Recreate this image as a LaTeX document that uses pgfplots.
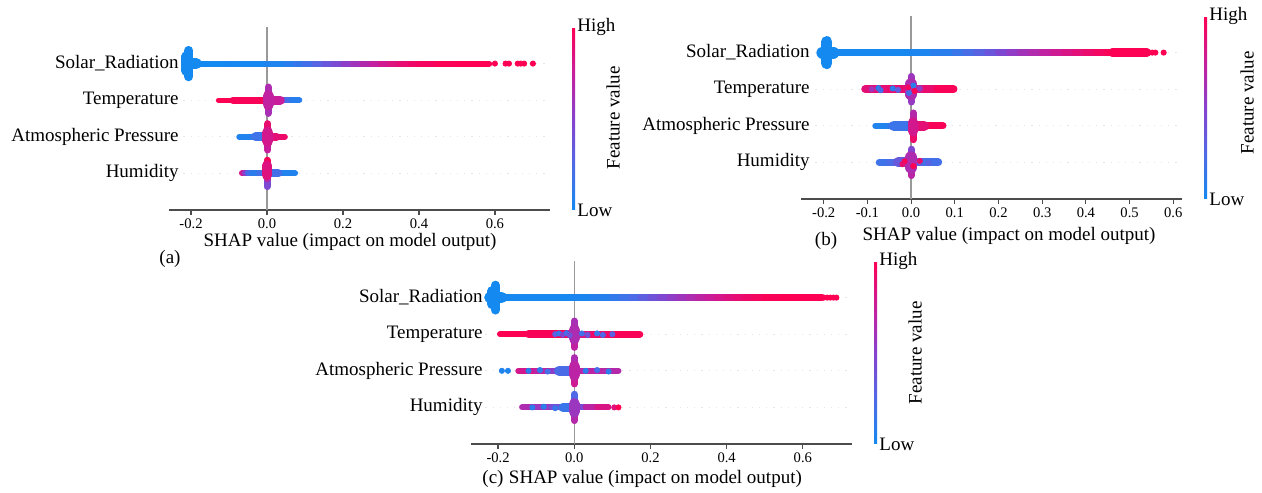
\documentclass[border=0pt]{standalone}
\usepackage{pgfplots}
\pgfplotsset{compat=1.18}
\usepackage{fontspec}
\setmainfont{Liberation Serif}
\pgfplotsset{
  colormap={shap}{rgb255(0cm)=(20,137,240); rgb255(1cm)=(80,105,230); rgb255(2cm)=(135,65,205); rgb255(3cm)=(200,30,155); rgb255(4cm)=(255,0,82)},
  shapax/.style={
    scale only axis, anchor=south west,
    width=190.5pt, height=91.5pt,
    ymin=-1, ymax=4,
    axis x line*=bottom, axis y line*=left,
    x axis line style={-, draw=black!70, line width=0.6pt},
    y axis line style={draw=none},
    ytick={0,1,2,3}, yticklabels={Humidity,Atmospheric Pressure,Temperature,Solar\_Radiation},
    ytick style={draw=none},
    xtick={-0.2,0,0.2,0.4,0.6}, xticklabels={-0.2,0.0,0.2,0.4,0.6},
    xtick style={draw=black!70, line width=0.6pt},
    tick align=outside, major tick length=2.5pt,
    yticklabel style={font=\fontsize{9.5}{11}\selectfont, anchor=east, inner sep=0pt},
    xticklabel style={font=\fontsize{7.3}{9}\selectfont, inner sep=0pt, anchor=north, yshift=-1.5pt},
    xlabel={SHAP value (impact on model output)},
    xlabel style={font=\fontsize{9.5}{11}\selectfont, anchor=center, inner sep=0pt},
    ymajorgrids, grid style={black!10, line width=0.4pt, dash pattern=on 0.6pt off 3pt},
    colormap name=shap, point meta min=0, point meta max=1,
    colorbar,
    colorbar style={
      at={(parent axis.north east)}, anchor=north west, xshift=2.5pt,
      scale only axis, width=1.5pt, height=91.5pt,
      ytick={0,1}, yticklabels={Low,High}, ytick style={draw=none},
      xtick=\empty, axis line style={draw=none},
      yticklabel style={font=\fontsize{9.5}{11}\selectfont, inner sep=1pt},
    },
  },
  band/.style={mesh, point meta=explicit, line cap=round},
  dots/.style={scatter, only marks, mark=*, mark size=1.3pt, point meta=explicit,
    scatter/use mapped color={draw=mapped color, fill=mapped color}},
  zeroline/.style={draw=black!40, line width=0.7pt},
}
\begin{document}
\begin{tikzpicture}
\useasboundingbox (0,0) rectangle (631pt,246pt);
% ---------------- (a)
\begin{axis}[shapax, at={(84.5pt,141pt)}, xmin=-0.258, xmax=0.745,
  yticklabel style={xshift=7.5pt},
  xlabel style={at={(axis description cs:0.475,0)}, yshift=-16pt}]
\addplot[zeroline] coordinates {(0,-1) (0,4)};
% Solar_Radiation
\addplot[band, line width=4.5pt] coordinates {(-0.206,2.64)[0] (-0.206,3.36)[0]};
\addplot[band, line width=5pt] coordinates {(-0.212,2.8)[0] (-0.212,3.2)[0]};
\addplot[band, line width=5.5pt] coordinates {(-0.205,3)[0] (-0.186,3)[0]};
\addplot[band, line width=3pt] coordinates {(-0.185,3)[0] (-0.1,3)[0] (0,3)[0.02] (0.05,3)[0.06] (0.075,3)[0.1] (0.1,3)[0.16] (0.125,3)[0.24] (0.15,3)[0.32] (0.175,3)[0.4] (0.2,3)[0.48] (0.225,3)[0.56] (0.25,3)[0.63] (0.275,3)[0.7] (0.3,3)[0.76] (0.325,3)[0.82] (0.35,3)[0.87] (0.375,3)[0.91] (0.4,3)[0.94] (0.45,3)[0.97] (0.5,3)[1] (0.585,3)[1]};
\addplot[dots] coordinates {(0.6,3)[1] (0.628,3)[1] (0.637,3)[1] (0.66,3)[1] (0.668,3)[1] (0.677,3)[1] (0.7,3)[1]};
% Temperature
\addplot[band, line width=2.5pt] coordinates {(-0.128,2)[1] (-0.01,2)[1]};
\addplot[band, line width=3.5pt] coordinates {(-0.09,2)[1] (-0.005,2)[0.95]};
\addplot[band, line width=3pt] coordinates {(0.005,2)[0.85] (0.02,2)[0.75] (0.035,2)[0.55] (0.05,2)[0.3] (0.065,2)[0.12] (0.085,2)[0.05]};
\addplot[band, line width=4.5pt] coordinates {(0.005,2)[0.85] (0.035,2)[0.65]};
\addplot[band, line width=3.5pt] coordinates {(0.003,1.64)[0.55] (0.003,1.85)[0.7] (0.003,2)[0.85] (0.003,2.15)[0.7] (0.003,2.36)[0.6]};
\addplot[band, line width=5.5pt] coordinates {(0.003,1.88)[0.75] (0.003,2.12)[0.7]};
% Atmospheric Pressure
\addplot[band, line width=3pt] coordinates {(-0.073,1)[0.05] (-0.04,1)[0.05] (-0.005,1)[0.15]};
\addplot[band, line width=4.5pt] coordinates {(-0.03,1)[0.1] (-0.005,1)[0.25]};
\addplot[band, line width=3pt] coordinates {(0.005,1)[0.9] (0.047,1)[0.95]};
\addplot[band, line width=4pt] coordinates {(0.005,1)[0.85] (0.025,1)[0.9]};
\addplot[band, line width=3.5pt] coordinates {(0.002,0.64)[0.7] (0.002,0.85)[0.8] (0.002,1)[0.85] (0.002,1.15)[0.9] (0.002,1.36)[0.9]};
\addplot[band, line width=5.5pt] coordinates {(0.002,0.88)[0.75] (0.002,1.12)[0.85]};
% Humidity
\addplot[band, line width=3pt] coordinates {(-0.066,0)[0.85] (-0.058,0)[0.7] (-0.05,0)[0.3] (-0.04,0)[0.1] (-0.02,0)[0.1] (-0.005,0)[0.3]};
\addplot[band, line width=3pt] coordinates {(0.005,0)[0.25] (0.03,0)[0.08] (0.074,0)[0.02]};
\addplot[band, line width=4pt] coordinates {(0.005,0)[0.3] (0.03,0)[0.1]};
\addplot[band, line width=3.5pt] coordinates {(0,-0.36)[0.35] (0,-0.15)[0.55] (0,0)[0.8] (0,0.15)[0.95] (0,0.36)[1]};
\addplot[band, line width=5pt] coordinates {(0,-0.05)[0.7] (0,0.22)[1]};
\end{axis}
% ---------------- (b)
\begin{axis}[shapax, at={(400.5pt,146.5pt)}, xmin=-0.252, xmax=0.62,
  xtick={-0.2,-0.1,0,0.1,0.2,0.3,0.4,0.5,0.6}, xticklabels={-0.2,-0.1,0.0,0.1,0.2,0.3,0.4,0.5,0.6},
  yticklabel style={xshift=7pt},
  xlabel style={at={(axis description cs:0.546,0)}, yshift=-18.5pt}]
\addplot[zeroline] coordinates {(0,-1) (0,4)};
% Solar_Radiation
\addplot[band, line width=5.5pt] coordinates {(-0.193,2.7)[0] (-0.193,3.3)[0]};
\addplot[band, line width=6pt] coordinates {(-0.203,3)[0] (-0.178,3)[0]};
\addplot[band, line width=3.5pt] coordinates {(-0.17,3)[0] (0,3)[0.02] (0.05,3)[0.05] (0.1,3)[0.12] (0.125,3)[0.18] (0.15,3)[0.25] (0.175,3)[0.33] (0.2,3)[0.42] (0.225,3)[0.5] (0.25,3)[0.57] (0.275,3)[0.63] (0.3,3)[0.69] (0.325,3)[0.75] (0.35,3)[0.8] (0.375,3)[0.85] (0.4,3)[0.89] (0.425,3)[0.93] (0.45,3)[0.96] (0.5,3)[1] (0.54,3)[1]};
\addplot[band, line width=4.2pt] coordinates {(0.46,3)[0.98] (0.54,3)[1]};
\addplot[dots] coordinates {(0.552,3)[1] (0.559,3)[1] (0.578,3)[1]};
% Temperature
\addplot[band, line width=4pt] coordinates {(-0.105,2)[0.9] (-0.08,2)[0.85] (-0.05,2)[0.9] (-0.01,2)[0.9]};
\addplot[band, line width=4pt] coordinates {(0.01,2)[0.75] (0.03,2)[0.85] (0.06,2)[0.95] (0.097,2)[1]};
\addplot[dots] coordinates {(-0.075,2.03)[0.1] (-0.07,1.97)[0.2] (-0.042,2.02)[0.1] (-0.03,1.98)[0.3] (-0.09,2)[0.6] (0.02,2.02)[0.55]};
\addplot[band, line width=3.5pt] coordinates {(0,1.65)[0.6] (0,1.85)[0.5] (0,2)[0.7] (0,2.15)[0.55] (0,2.35)[0.6]};
\addplot[band, line width=6pt] coordinates {(0,1.86)[0.7] (0,2.14)[0.6]};
\addplot[dots] coordinates {(0.005,2.1)[0.1] (-0.005,1.9)[0.2] (0.008,1.95)[1] (-0.007,2.05)[0.95]};
% Atmospheric Pressure
\addplot[band, line width=3pt] coordinates {(-0.082,1)[0.05] (-0.05,1)[0.05] (-0.02,1)[0.15] (-0.005,1)[0.3]};
\addplot[band, line width=5pt] coordinates {(-0.04,1)[0.08] (-0.005,1)[0.25]};
\addplot[band, line width=3.5pt] coordinates {(0.008,1)[0.9] (0.04,1)[0.95] (0.073,1)[1]};
\addplot[band, line width=5pt] coordinates {(0.008,1)[0.85] (0.03,1)[0.9]};
\addplot[band, line width=3.5pt] coordinates {(0.005,0.62)[0.95] (0.005,0.8)[0.9] (0.005,1)[0.75] (0.005,1.15)[0.65] (0.005,1.35)[0.7]};
\addplot[band, line width=5pt] coordinates {(0.005,0.85)[0.9] (0.005,1.1)[0.7]};
% Humidity
\addplot[band, line width=3.5pt] coordinates {(-0.073,0)[0.15] (-0.05,0)[0.2] (-0.03,0)[0.25] (-0.005,0)[0.35]};
\addplot[band, line width=5pt] coordinates {(-0.03,0)[0.3] (-0.005,0)[0.4]};
\addplot[band, line width=4pt] coordinates {(0.008,0)[0.4] (0.03,0)[0.25] (0.062,0)[0.15]};
\addplot[band, line width=3.5pt] coordinates {(0,-0.36)[0.55] (0,-0.15)[0.85] (0,0)[0.6] (0,0.15)[0.45] (0,0.36)[0.5]};
\addplot[band, line width=6pt] coordinates {(0,-0.14)[0.8] (0,0.14)[0.5]};
\addplot[dots] coordinates {(-0.015,0.03)[1] (-0.02,-0.05)[0.9] (0.02,0.04)[0.9] (0.04,-0.02)[0.3] (0.005,-0.1)[1]};
\end{axis}
% ---------------- (c)
\begin{axis}[shapax, at={(235.5pt,24pt)}, xmin=-0.271, xmax=0.729,
  yticklabel style={xshift=8.5pt},
  xlabel style={at={(axis description cs:0.484,0)}, yshift=-17.5pt}]
\addplot[zeroline] coordinates {(0,-1) (0,4)};
% Solar_Radiation
\addplot[band, line width=4.5pt] coordinates {(-0.207,2.66)[0] (-0.207,3.34)[0]};
\addplot[band, line width=5pt] coordinates {(-0.215,2.82)[0] (-0.215,3.18)[0]};
\addplot[band, line width=5.5pt] coordinates {(-0.222,3)[0] (-0.19,3)[0]};
\addplot[band, line width=3.5pt] coordinates {(-0.185,3)[0] (0,3)[0.02] (0.05,3)[0.04] (0.1,3)[0.1] (0.125,3)[0.15] (0.15,3)[0.2] (0.175,3)[0.27] (0.2,3)[0.35] (0.225,3)[0.42] (0.25,3)[0.5] (0.275,3)[0.56] (0.3,3)[0.62] (0.325,3)[0.68] (0.35,3)[0.73] (0.375,3)[0.78] (0.4,3)[0.83] (0.425,3)[0.87] (0.45,3)[0.91] (0.475,3)[0.94] (0.5,3)[0.96] (0.55,3)[0.99] (0.65,3)[1]};
\addplot[dots] coordinates {(0.655,3)[1] (0.664,3)[1] (0.672,3)[1] (0.68,3)[1] (0.688,3)[1]};
% Temperature
\addplot[band, line width=3pt] coordinates {(-0.195,2)[1] (-0.1,2)[1] (-0.01,2)[0.95]};
\addplot[band, line width=4pt] coordinates {(-0.12,2)[1] (-0.005,2)[0.95]};
\addplot[band, line width=3.5pt] coordinates {(0.008,2)[0.8] (0.05,2)[0.9] (0.1,2)[0.95] (0.172,2)[1]};
\addplot[dots] coordinates {(-0.05,2)[0.3] (-0.04,2.02)[0.15] (-0.03,1.98)[0.5] (-0.02,2.03)[0.2] (-0.012,1.97)[0.4] (0.02,2.02)[0.2] (0.035,1.98)[0.4] (0.06,2.02)[0.15] (0.075,1.98)[0.25] (0.1,2)[0.3]};
\addplot[band, line width=3.5pt] coordinates {(0,1.64)[0.7] (0,1.85)[0.75] (0,2)[0.7] (0,2.15)[0.65] (0,2.36)[0.6]};
\addplot[band, line width=5.5pt] coordinates {(0,1.88)[0.7] (0,2.12)[0.6]};
% Atmospheric Pressure
\addplot[dots] coordinates {(-0.19,1)[0.05] (-0.174,1)[0.05]};
\addplot[band, line width=3pt] coordinates {(-0.147,1)[0.85] (-0.1,1)[0.75] (-0.06,1)[0.65] (-0.03,1)[0.4] (-0.005,1)[0.2]};
\addplot[band, line width=5pt] coordinates {(-0.04,1)[0.25] (-0.005,1)[0.2]};
\addplot[band, line width=3pt] coordinates {(0.008,1)[0.6] (0.04,1)[0.75] (0.08,1)[0.65] (0.116,1)[0.7]};
\addplot[dots] coordinates {(-0.12,1)[0.1] (-0.09,1.02)[0.1] (-0.07,0.98)[0.2] (0.03,1)[0.1] (0.06,1.02)[0.2] (0.09,0.98)[0.1]};
\addplot[band, line width=3.5pt] coordinates {(0,0.64)[0.75] (0,0.85)[0.8] (0,1)[0.65] (0,1.15)[0.7] (0,1.36)[0.6]};
\addplot[band, line width=5.5pt] coordinates {(0,0.88)[0.8] (0,1.12)[0.6]};
% Humidity
\addplot[band, line width=3pt] coordinates {(-0.137,0)[0.7] (-0.1,0)[0.6] (-0.06,0)[0.55] (-0.03,0)[0.3] (-0.005,0)[0.15]};
\addplot[band, line width=4.5pt] coordinates {(-0.03,0)[0.15] (-0.005,0)[0.15]};
\addplot[dots] coordinates {(-0.11,0)[0.1] (-0.08,0.02)[0.1] (-0.05,-0.02)[0.15]};
\addplot[band, line width=3pt] coordinates {(0.008,0)[0.3] (0.03,0)[0.6] (0.06,0)[0.8] (0.09,0)[0.85]};
\addplot[dots] coordinates {(0.105,0)[0.85] (0.116,0)[1]};
\addplot[band, line width=3.5pt] coordinates {(0,-0.36)[0.45] (0,-0.15)[0.9] (0,0)[0.6] (0,0.15)[0.2] (0,0.36)[0.3]};
\addplot[band, line width=5.5pt] coordinates {(0,-0.12)[0.85] (0,0.1)[0.3]};
\end{axis}
\node[font=\fontsize{9.5}{11}\selectfont] at (85pt,116.5pt) {(a)};
\node[font=\fontsize{9.5}{11}\selectfont] at (413pt,125.5pt) {(b)};
\node[font=\fontsize{9.5}{11}\selectfont] at (246.5pt,6.5pt) {(c)};
\node[font=\fontsize{9.5}{11}\selectfont, rotate=90] at (306.5pt,187pt) {Feature value};
\node[font=\fontsize{9.5}{11}\selectfont, rotate=90] at (623.5pt,194.5pt) {Feature value};
\node[font=\fontsize{9.5}{11}\selectfont, rotate=90] at (457.5pt,69.5pt) {Feature value};
\end{tikzpicture}
\end{document}
